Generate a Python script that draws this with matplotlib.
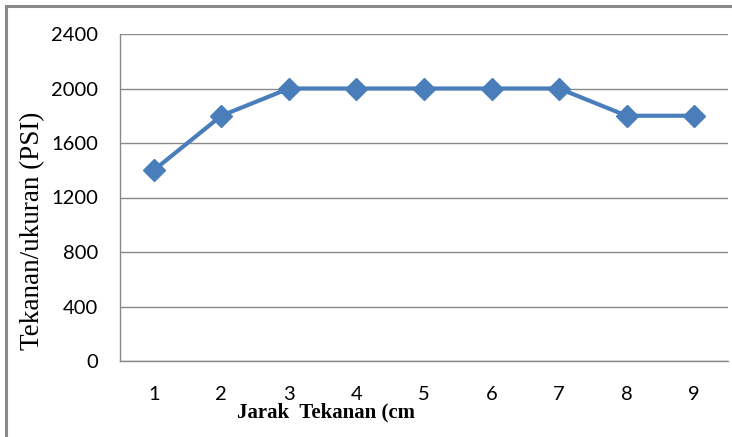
import matplotlib
matplotlib.use("Agg")
import matplotlib.pyplot as plt
from matplotlib.patches import Rectangle

# pressure per measuring distance
jarak = [1, 2, 3, 4, 5, 6, 7, 8, 9]
tekanan = [1400, 1800, 2000, 2000, 2000, 2000, 2000, 1800, 1800]
y_ticks = [0, 400, 800, 1200, 1600, 2000, 2400]

W, H = 732, 437
fig = plt.figure(figsize=(W / 100, H / 100), dpi=100)
fig.patch.set_facecolor("white")

# chart frame, open on the right and bottom like a cropped chart box
fig.patches.append(Rectangle((6 / W, -0.1), 1.2, 1 - 6 / H + 0.1,
                             transform=fig.transFigure, fill=False,
                             edgecolor="#8a8a8a", linewidth=2.2))

ax = fig.add_axes([120 / W, 1 - 361 / H, 608 / W, 327 / H])
ax.plot(jarak, tekanan, color="#4a7ebb", linewidth=3, marker="D",
        markersize=11, markeredgecolor="#4a7ebb", zorder=3, clip_on=False)

ax.set_xlim(0.5, 9.5)
ax.set_ylim(0, 2400)
ax.set_yticks(y_ticks)
ax.set_xticks(jarak)
ax.grid(axis="y", color="#8a8a8a", linewidth=1)
ax.set_axisbelow(True)

for side in ("top", "right"):
    ax.spines[side].set_visible(False)
for side in ("left", "bottom"):
    ax.spines[side].set_color("#8a8a8a")
    ax.spines[side].set_linewidth(1)

ax.tick_params(length=0, labelsize=14.5, colors="black")
ax.tick_params(axis="y", pad=16)
ax.tick_params(axis="x", pad=18)
for lab in ax.get_xticklabels() + ax.get_yticklabels():
    lab.set_family("Lato")

fig.text(33 / W, 1 - 231 / H, "Tekanan/ukuran (PSI)", rotation=90,
         ha="center", va="center", family="Liberation Serif", fontsize=19.5)
fig.text(326 / W, 1 - 412 / H, "Jarak  Tekanan (cm", ha="center",
         va="center", family="Liberation Serif", fontweight="bold",
         fontsize=15)

fig.savefig("out.png", dpi=100)
